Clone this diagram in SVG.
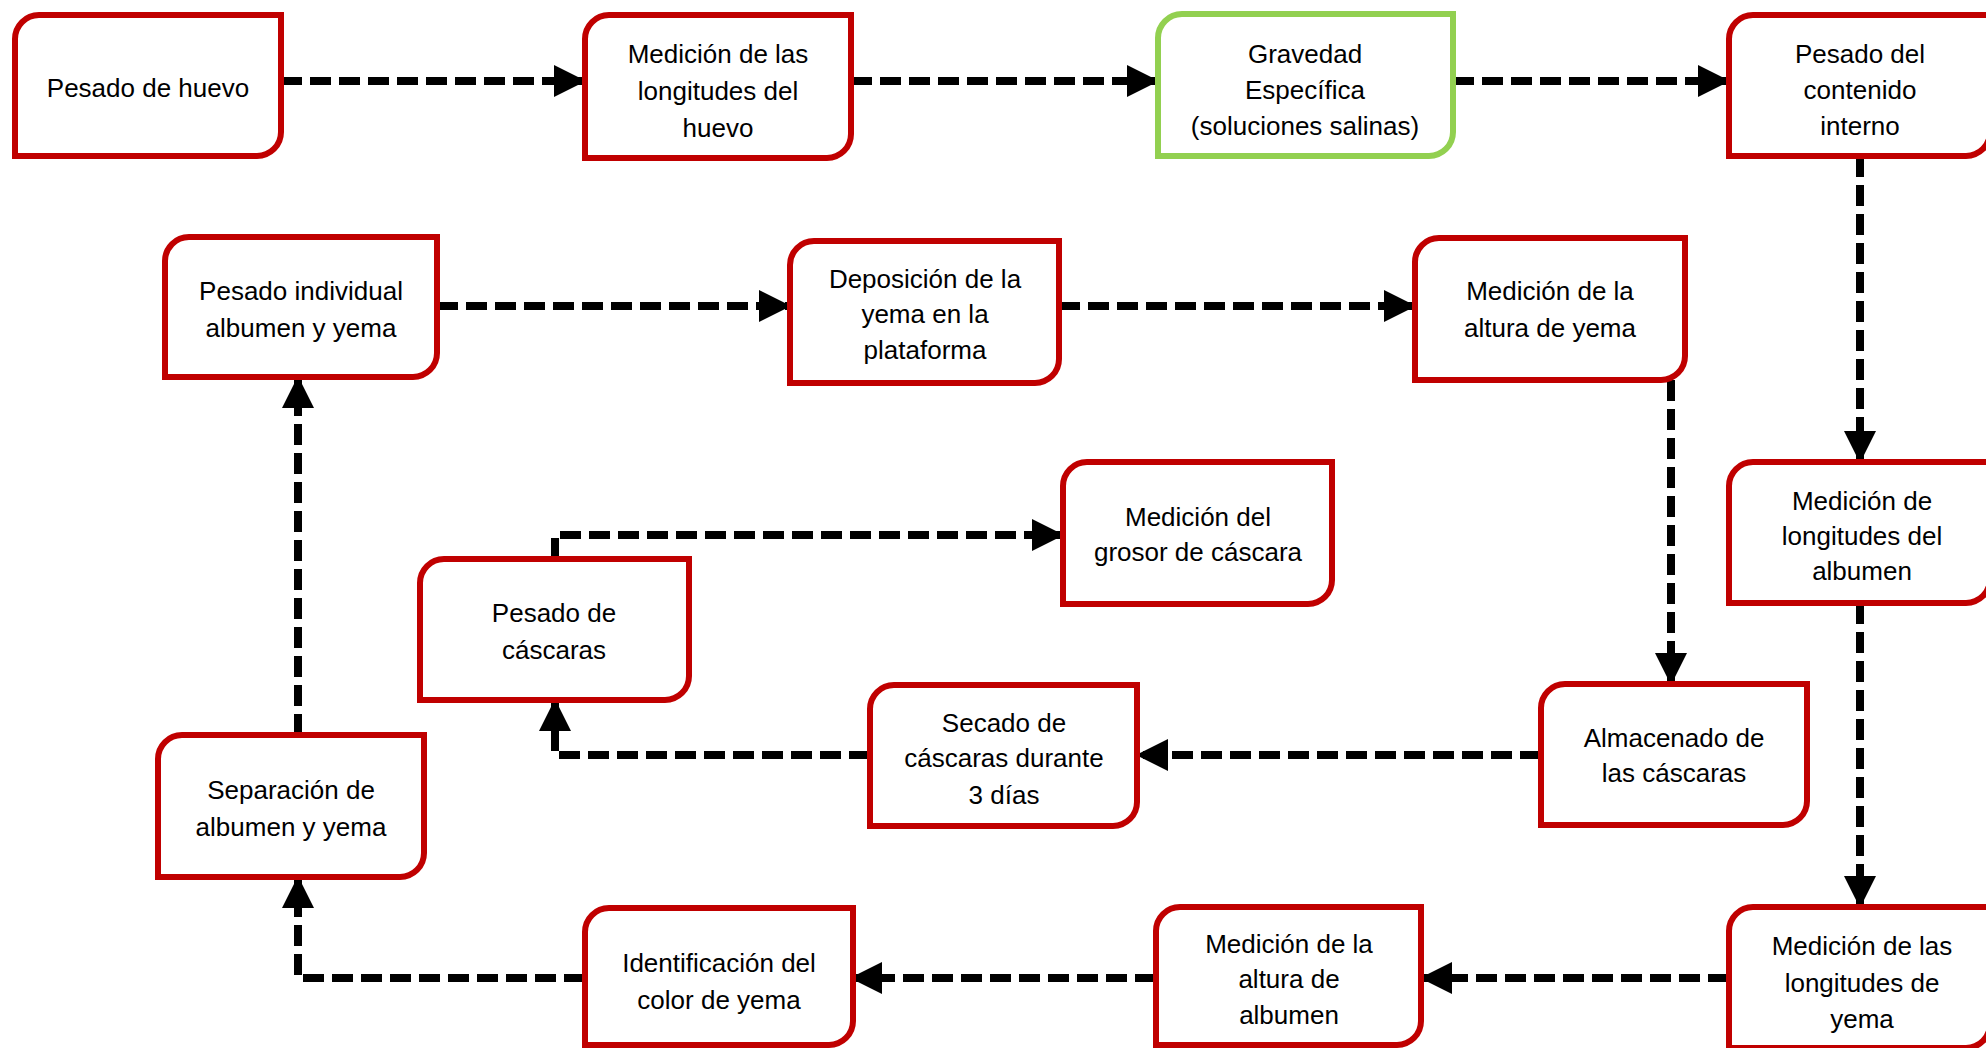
<svg xmlns="http://www.w3.org/2000/svg" width="1986" height="1048" viewBox="0 0 1986 1048">
<style>
.box{fill:#fff;stroke:#C00000;stroke-width:6}
.green{stroke:#92D050}
.lbl{font-family:"Liberation Sans",Arial,sans-serif;font-size:26px;fill:#000;text-anchor:middle}
.con{fill:none;stroke:#000;stroke-width:8;stroke-dasharray:21 8;stroke-linejoin:miter;marker-end:url(#arr)}
</style>
<defs>
<marker id="arr" markerUnits="userSpaceOnUse" markerWidth="32" markerHeight="32" refX="31" refY="16" orient="auto">
<path d="M0,0 L32,16 L0,32 Z" fill="#000"/>
</marker>
</defs>
<rect width="1986" height="1048" fill="#fff"/>
<g id="connectors">
<path class="con" d="M281,81 H585"/>
<path class="con" d="M851,81 H1158"/>
<path class="con" d="M1453,81 H1729"/>
<path class="con" d="M1860,156 V462"/>
<path class="con" d="M1860,603 V907"/>
<path class="con" d="M1729,978 H1421"/>
<path class="con" d="M1156,978 H851"/>
<path class="con" d="M585,978 H298 V877"/>
<path class="con" d="M298,735 V377"/>
<path class="con" d="M437,306 H790"/>
<path class="con" d="M1059,306 H1415"/>
<path class="con" d="M1671,380 V684"/>
<path class="con" d="M1541,755 H1137"/>
<path class="con" d="M870,755 H555 V700"/>
<path class="con" d="M555,559 V535 H1063"/>
</g>
<g id="n1">
<path class="box" d="M39,15 H281 V132 A24 24 0 0 1 257,156 H15 V39 A24 24 0 0 1 39,15 Z"/>
<text class="lbl" x="148" y="97">Pesado de huevo</text>
</g>
<g id="n2">
<path class="box" d="M609,15 H851 V134 A24 24 0 0 1 827,158 H585 V39 A24 24 0 0 1 609,15 Z"/>
<text class="lbl" x="718" y="63">Medición de las</text>
<text class="lbl" x="718" y="100">longitudes del</text>
<text class="lbl" x="718" y="137">huevo</text>
</g>
<g id="n3">
<path class="box green" d="M1182,14 H1453 V132 A24 24 0 0 1 1429,156 H1158 V38 A24 24 0 0 1 1182,14 Z"/>
<text class="lbl" x="1305" y="63">Gravedad</text>
<text class="lbl" x="1305" y="99">Específica</text>
<text class="lbl" x="1305" y="135">(soluciones salinas)</text>
</g>
<g id="n4">
<path class="box" d="M1753,15 H1990 V132 A24 24 0 0 1 1966,156 H1729 V39 A24 24 0 0 1 1753,15 Z"/>
<text class="lbl" x="1860" y="63">Pesado del</text>
<text class="lbl" x="1860" y="99">contenido</text>
<text class="lbl" x="1860" y="135">interno</text>
</g>
<g id="n5">
<path class="box" d="M189,237 H437 V353 A24 24 0 0 1 413,377 H165 V261 A24 24 0 0 1 189,237 Z"/>
<text class="lbl" x="301" y="300">Pesado individual</text>
<text class="lbl" x="301" y="337">albumen y yema</text>
</g>
<g id="n6">
<path class="box" d="M814,241 H1059 V359 A24 24 0 0 1 1035,383 H790 V265 A24 24 0 0 1 814,241 Z"/>
<text class="lbl" x="925" y="288">Deposición de la</text>
<text class="lbl" x="925" y="323">yema en la</text>
<text class="lbl" x="925" y="359">plataforma</text>
</g>
<g id="n7">
<path class="box" d="M1439,238 H1685 V356 A24 24 0 0 1 1661,380 H1415 V262 A24 24 0 0 1 1439,238 Z"/>
<text class="lbl" x="1550" y="300">Medición de la</text>
<text class="lbl" x="1550" y="337">altura de yema</text>
</g>
<g id="n8">
<path class="box" d="M1753,462 H1990 V579 A24 24 0 0 1 1966,603 H1729 V486 A24 24 0 0 1 1753,462 Z"/>
<text class="lbl" x="1862" y="510">Medición de</text>
<text class="lbl" x="1862" y="545">longitudes del</text>
<text class="lbl" x="1862" y="580">albumen</text>
</g>
<g id="n9">
<path class="box" d="M1753,907 H1990 V1024 A24 24 0 0 1 1966,1048 H1729 V931 A24 24 0 0 1 1753,907 Z"/>
<text class="lbl" x="1862" y="955">Medición de las</text>
<text class="lbl" x="1862" y="992">longitudes de</text>
<text class="lbl" x="1862" y="1028">yema</text>
</g>
<g id="n10">
<path class="box" d="M1180,907 H1421 V1021 A24 24 0 0 1 1397,1045 H1156 V931 A24 24 0 0 1 1180,907 Z"/>
<text class="lbl" x="1289" y="953">Medición de la</text>
<text class="lbl" x="1289" y="988">altura de</text>
<text class="lbl" x="1289" y="1024">albumen</text>
</g>
<g id="n11">
<path class="box" d="M609,908 H853 V1021 A24 24 0 0 1 829,1045 H585 V932 A24 24 0 0 1 609,908 Z"/>
<text class="lbl" x="719" y="972">Identificación del</text>
<text class="lbl" x="719" y="1009">color de yema</text>
</g>
<g id="n12">
<path class="box" d="M182,735 H424 V853 A24 24 0 0 1 400,877 H158 V759 A24 24 0 0 1 182,735 Z"/>
<text class="lbl" x="291" y="799">Separación de</text>
<text class="lbl" x="291" y="836">albumen y yema</text>
</g>
<g id="n13">
<path class="box" d="M444,559 H689 V676 A24 24 0 0 1 665,700 H420 V583 A24 24 0 0 1 444,559 Z"/>
<text class="lbl" x="554" y="622">Pesado de</text>
<text class="lbl" x="554" y="659">cáscaras</text>
</g>
<g id="n14">
<path class="box" d="M1087,462 H1332 V580 A24 24 0 0 1 1308,604 H1063 V486 A24 24 0 0 1 1087,462 Z"/>
<text class="lbl" x="1198" y="526">Medición del</text>
<text class="lbl" x="1198" y="561">grosor de cáscara</text>
</g>
<g id="n15">
<path class="box" d="M894,685 H1137 V802 A24 24 0 0 1 1113,826 H870 V709 A24 24 0 0 1 894,685 Z"/>
<text class="lbl" x="1004" y="732">Secado de</text>
<text class="lbl" x="1004" y="767">cáscaras durante</text>
<text class="lbl" x="1004" y="804">3 días</text>
</g>
<g id="n16">
<path class="box" d="M1565,684 H1807 V801 A24 24 0 0 1 1783,825 H1541 V708 A24 24 0 0 1 1565,684 Z"/>
<text class="lbl" x="1674" y="747">Almacenado de</text>
<text class="lbl" x="1674" y="782">las cáscaras</text>
</g>
</svg>
